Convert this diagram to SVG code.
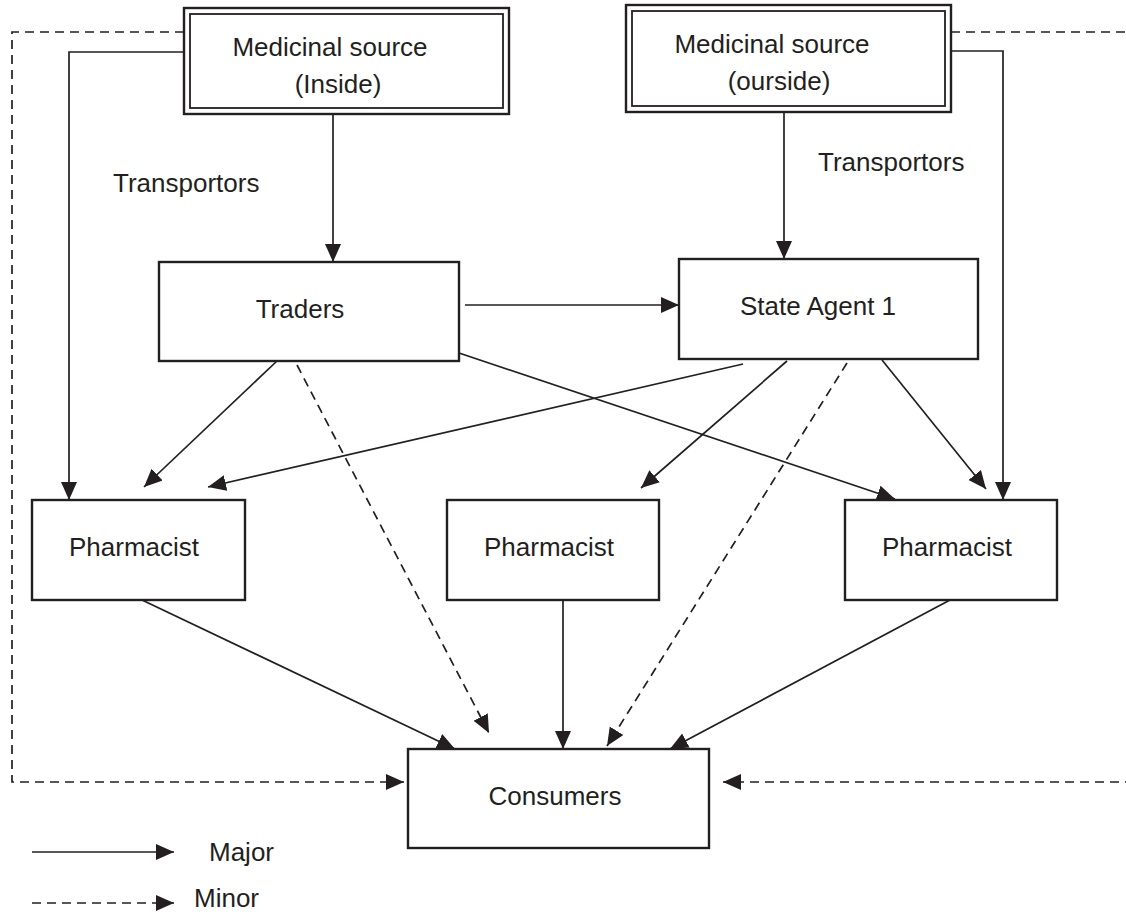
<svg xmlns="http://www.w3.org/2000/svg" width="1126" height="914" viewBox="0 0 1126 914">
<style>
  .box { fill: #fff; stroke: #231f20; stroke-width: 2.4; }
  .inner { fill: none; stroke: #231f20; stroke-width: 1.8; }
  .lbl { font-family: "Liberation Sans", Arial, sans-serif; font-size: 26px; fill: #231f20; }
  .mid { text-anchor: middle; }
  .major { fill: none; stroke: #231f20; stroke-width: 1.7; }
  .minor { fill: none; stroke: #231f20; stroke-width: 1.7; stroke-dasharray: 9 6; }
</style>
<defs>
  <marker id="ah" markerUnits="userSpaceOnUse" markerWidth="19" markerHeight="17" refX="18" refY="8" orient="auto" viewBox="0 0 19 17">
    <path d="M0,0 L18,8 L0,16 z" fill="#231f20"/>
  </marker>
</defs>
<rect width="1126" height="914" fill="#fff"/>

<g id="connectors">
  <!-- major -->
  <line class="major" x1="333" y1="114" x2="333" y2="262" marker-end="url(#ah)"/>
  <polyline class="major" points="190,52 69,52 69,500" marker-end="url(#ah)"/>
  <line class="major" x1="784" y1="112" x2="784" y2="259" marker-end="url(#ah)"/>
  <polyline class="major" points="951,51 1003,51 1003,500" marker-end="url(#ah)"/>
  <line class="major" x1="465" y1="305" x2="679" y2="305" marker-end="url(#ah)"/>
  <line class="major" x1="277" y1="361" x2="144" y2="487" marker-end="url(#ah)"/>
  <line class="major" x1="743" y1="364" x2="208" y2="487" marker-end="url(#ah)"/>
  <line class="major" x1="459" y1="353" x2="895" y2="499" marker-end="url(#ah)"/>
  <line class="major" x1="787" y1="361" x2="641" y2="488" marker-end="url(#ah)"/>
  <line class="major" x1="882" y1="360" x2="986" y2="489" marker-end="url(#ah)"/>
  <line class="major" x1="142" y1="600" x2="455" y2="749" marker-end="url(#ah)"/>
  <line class="major" x1="563" y1="600" x2="563" y2="749" marker-end="url(#ah)"/>
  <line class="major" x1="950" y1="600" x2="670" y2="749" marker-end="url(#ah)"/>
  <!-- minor -->
  <line class="minor" x1="297" y1="365" x2="489" y2="733" marker-end="url(#ah)"/>
  <line class="minor" x1="847" y1="363" x2="607" y2="746" marker-end="url(#ah)"/>
  <polyline class="minor" points="184,32 12,32 12,782 404,782" marker-end="url(#ah)"/>
  <polyline class="minor" points="951,32 1140,32 1140,782 723,782" marker-end="url(#ah)"/>
</g>

<g id="source-inside">
  <rect class="box" x="184" y="8" width="325" height="106"/>
  <rect class="inner" x="190" y="14" width="313" height="94"/>
  <text class="lbl mid" x="330" y="56">Medicinal source</text>
  <text class="lbl mid" x="338" y="93">(Inside)</text>
</g>

<g id="source-outside">
  <rect class="box" x="626" y="5" width="325" height="107"/>
  <rect class="inner" x="632" y="11" width="313" height="95"/>
  <text class="lbl mid" x="772" y="53">Medicinal source</text>
  <text class="lbl mid" x="779" y="90">(ourside)</text>
</g>

<g id="transportors-left">
  <text class="lbl" x="113" y="192">Transportors</text>
</g>
<g id="transportors-right">
  <text class="lbl" x="818" y="171">Transportors</text>
</g>

<g id="traders">
  <rect class="box" x="159" y="262" width="300" height="99"/>
  <text class="lbl mid" x="300" y="318">Traders</text>
</g>

<g id="state-agent">
  <rect class="box" x="679" y="259" width="299" height="100"/>
  <text class="lbl mid" x="818" y="315">State Agent 1</text>
</g>

<g id="pharmacist-left">
  <rect class="box" x="32" y="500" width="213" height="100"/>
  <text class="lbl mid" x="134" y="556">Pharmacist</text>
</g>
<g id="pharmacist-middle">
  <rect class="box" x="447" y="500" width="212" height="100"/>
  <text class="lbl mid" x="549" y="556">Pharmacist</text>
</g>
<g id="pharmacist-right">
  <rect class="box" x="845" y="500" width="212" height="100"/>
  <text class="lbl mid" x="947" y="556">Pharmacist</text>
</g>

<g id="consumers">
  <rect class="box" x="408" y="749" width="301" height="99"/>
  <text class="lbl mid" x="555" y="805">Consumers</text>
</g>

<g id="legend">
  <line class="major" x1="32" y1="852" x2="174" y2="852" marker-end="url(#ah)"/>
  <text class="lbl" x="209" y="861">Major</text>
  <line class="minor" x1="32" y1="903" x2="174" y2="903" stroke-dasharray="7 5" marker-end="url(#ah)"/>
  <text class="lbl" x="194" y="907">Minor</text>
</g>
</svg>
